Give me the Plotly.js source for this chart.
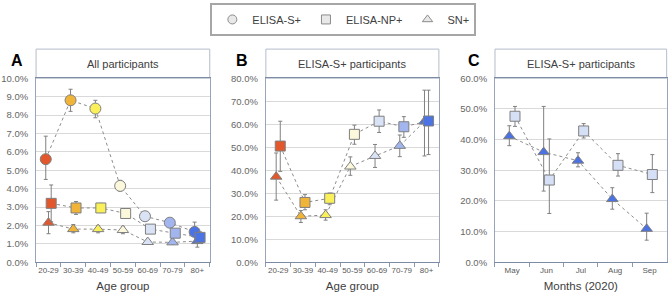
<!DOCTYPE html>
<html>
<head>
<meta charset="utf-8">
<script src="https://cdn.plot.ly/plotly-3.0.1.min.js"></script>
<style>html,body{margin:0;padding:0;background:#fff;}#chart{width:668px;height:294px;}</style>
</head>
<body>
<div id="chart"></div>
<script>
// ---- data ----
const ageGroups = ['20-29','30-39','40-49','50-59','60-69','70-79','80+'];
const months = ['May','Jun','Jul','Aug','Sep'];
const ageColors = ['#E2582C','#F0B438','#FAF05A','#FCF8DC','#DAE3F6','#A2B5EE','#4B73E4'];

// Panel A: all participants (%)
const aS = [5.6, 8.8, 8.35, 4.15, 2.5, 2.15, 1.65];
const aSHi = [6.85, 9.4, 8.8, 4.45, 2.62, 2.27, 2.18];
const aSLo = [4.5, 8.2, 7.85, 3.87, 2.38, 2.03, 1.12];
const aNP = [3.2, 2.95, 2.95, 2.65, 1.8, 1.58, 1.35];
const aNPHi = [4.2, 3.3, 3.2, 2.9, 1.92, 1.7, 1.65];
const aNPLo = [2.2, 2.6, 2.7, 2.42, 1.68, 1.46, 1.05];
const aSN = [2.15, 1.8, 1.8, 1.75, 1.1, 1.08, 1.15];
const aSNHi = [2.75, 2.05, 2.0, 1.95, 1.2, 1.18, 1.55];
const aSNLo = [1.55, 1.6, 1.6, 1.55, 1.0, 0.98, 0.82];

// Panel B: ELISA-S+ participants by age (%)
const bNP = [50.5, 26.0, 27.8, 55.6, 61.3, 58.9, 61.4];
const bNPHi = [61.3, 29.4, 30.1, 59.6, 66.2, 63.3, 74.8];
const bNPLo = [39.5, 22.8, 25.0, 51.3, 56.4, 54.3, 46.8];
const bSN = [37.2, 20.0, 20.5, 41.6, 46.2, 50.6, 61.2];
const bSNHi = [47.5, 22.5, 22.8, 45.8, 51.2, 55.3, 74.8];
const bSNLo = [27.0, 17.3, 18.3, 37.8, 41.2, 45.9, 46.2];

// Panel C: ELISA-S+ participants by month (%)
const cNP = [47.6, 26.8, 42.8, 31.6, 28.6];
const cNPHi = [50.8, 40.2, 45.2, 35.4, 35.1];
const cNPLo = [44.3, 15.9, 40.5, 28.1, 22.7];
const cSN = [41.1, 35.9, 33.1, 20.6, 10.9];
const cSNHi = [44.5, 50.8, 35.7, 24.3, 16.0];
const cSNLo = [38.0, 23.2, 31.1, 17.3, 7.2];

const seriesNames = ['ELISA-S+','ELISA-NP+','SN+'];
const panelTitles = ['All participants','ELISA-S+ participants','ELISA-S+ participants'];
const panelLetters = ['A','B','C'];

// ---- styling ----
const FONT = 'Liberation Sans, Arial, sans-serif';
const cColNP = '#D5DFF5', cColSN = '#4A72E2';

function err(v, hi, lo){
  return {type:'data', symmetric:false,
    array: hi.map((h,i)=>h - v[i]), arrayminus: lo.map((l,i)=>v[i]-l),
    color:'#808080', thickness:1, width:2};
}
function tr(x, y, hi, lo, symbol, color, xa, ya, size){
  return {type:'scatter', mode:'lines+markers', x:x, y:y, xaxis:xa, yaxis:ya,
    showlegend:false, hoverinfo:'skip',
    line:{color:'#8C8C8C', width:1, dash:'dot'},
    marker:{symbol:symbol, size:size, color:color, line:{color:'#7F7F7F', width:1}},
    error_y: err(y, hi, lo)};
}

const traces = [
  tr(ageGroups, aS, aSHi, aSLo, 'circle', ageColors, 'x', 'y', 11),
  tr(ageGroups, aSN, aSNHi, aSNLo, 'triangle-up', ageColors, 'x', 'y', 10),
  tr(ageGroups, aNP, aNPHi, aNPLo, 'square', ageColors, 'x', 'y', 10),
  tr(ageGroups, bSN, bSNHi, bSNLo, 'triangle-up', ageColors, 'x2', 'y2', 10),
  tr(ageGroups, bNP, bNPHi, bNPLo, 'square', ageColors, 'x2', 'y2', 10),
  tr(months, cSN, cSNHi, cSNLo, 'triangle-up', cColSN, 'x3', 'y3', 10),
  tr(months, cNP, cNPHi, cNPLo, 'square', cColNP, 'x3', 'y3', 10)
];
// legend-only traces on a hidden axis pair
const legSymbols = ['circle','square','triangle-up'];
seriesNames.forEach((n,i)=>{
  traces.push({type:'scatter', mode:'markers', x:[null], y:[null], xaxis:'x4', yaxis:'y4',
    name:n, showlegend:true, hoverinfo:'skip',
    marker:{symbol:legSymbols[i], size:9, color:'#E8E8E8', line:{color:'#8C8C8C', width:1}}});
});

const yDom = [0.108, 0.734];
const xDoms = [[0.054, 0.314],[0.398, 0.657],[0.741, 0.998]];
const boxTop = 0.833;

function xaxis(dom, title){
  return {domain:dom, anchor:'free', type:'category', showgrid:false, zeroline:false,
    showline:true, linecolor:'#7D8BA5', linewidth:1, mirror:true,
    ticks:'outside', tickson:'boundaries', ticklen:4, tickcolor:'#8C99B0', tickangle:0,
    tickfont:{family:FONT, size:8, color:'#595959'},
    title:{text:title, font:{family:FONT, size:11.5, color:'#404040'}, standoff:8},
    fixedrange:true};
}
function yaxis(range, dtick, anchor){
  return {domain:yDom, anchor:anchor, range:range, dtick:dtick, tickformat:'.1f', ticksuffix:'%',
    showgrid:true, gridcolor:'#D9D9D9', gridwidth:1, zeroline:false,
    showline:true, linecolor:'#97A4BB', linewidth:1, mirror:true,
    ticks:'outside', ticklen:5, tickcolor:'rgba(0,0,0,0)',
    tickfont:{family:FONT, size:9.5, color:'#666666'}, fixedrange:true};
}

const layout = {
  width:668, height:294, margin:{l:0, r:0, t:0, b:0},
  paper_bgcolor:'#fff', plot_bgcolor:'rgba(0,0,0,0)',
  font:{family:FONT},
  scattermode:'group', scattergap:0.67,
  xaxis: Object.assign(xaxis(xDoms[0], 'Age group'), {anchor:'y'}),
  yaxis: yaxis([0,10], 1, 'x'),
  xaxis2: Object.assign(xaxis(xDoms[1], 'Age group'), {anchor:'y2'}),
  yaxis2: yaxis([0,80], 10, 'x2'),
  xaxis3: Object.assign(xaxis(xDoms[2], 'Months (2020)'), {anchor:'y3'}),
  yaxis3: yaxis([0,60], 10, 'x3'),
  xaxis4: {domain:[0,0.01], anchor:'y4', visible:false},
  yaxis4: {domain:[0,0.01], anchor:'x4', visible:false},
  legend:{orientation:'h', x:0.514, xanchor:'center', y:0.99, yanchor:'top',
    bgcolor:'#fff', bordercolor:'#A6A6A6', borderwidth:2,
    font:{family:FONT, size:11, color:'#404040'}, itemclick:false, itemdoubleclick:false},
  shapes: xDoms.map(d=>({type:'rect', xref:'paper', yref:'paper', x0:d[0], x1:d[1],
    y0:yDom[1], y1:boxTop, line:{color:'#B4BDCB', width:1}, fillcolor:'rgba(0,0,0,0)', layer:'below'})),
  annotations: [].concat(
    xDoms.map((d,i)=>({xref:'paper', yref:'paper', x:(d[0]+d[1])/2, y:(yDom[1]+boxTop)/2,
      text:panelTitles[i], showarrow:false, xanchor:'center', yanchor:'middle',
      font:{family:FONT, size:11, color:'#404040'}})),
    [0.026, 0.363, 0.71].map((x,i)=>({xref:'paper', yref:'paper', x:x, y:0.795,
      text:'<b>'+panelLetters[i]+'</b>', showarrow:false, xanchor:'center', yanchor:'middle',
      font:{family:FONT, size:16, color:'#000'}}))
  )
};

Plotly.newPlot('chart', traces, layout, {displayModeBar:false, staticPlot:true});
</script>
</body>
</html>
